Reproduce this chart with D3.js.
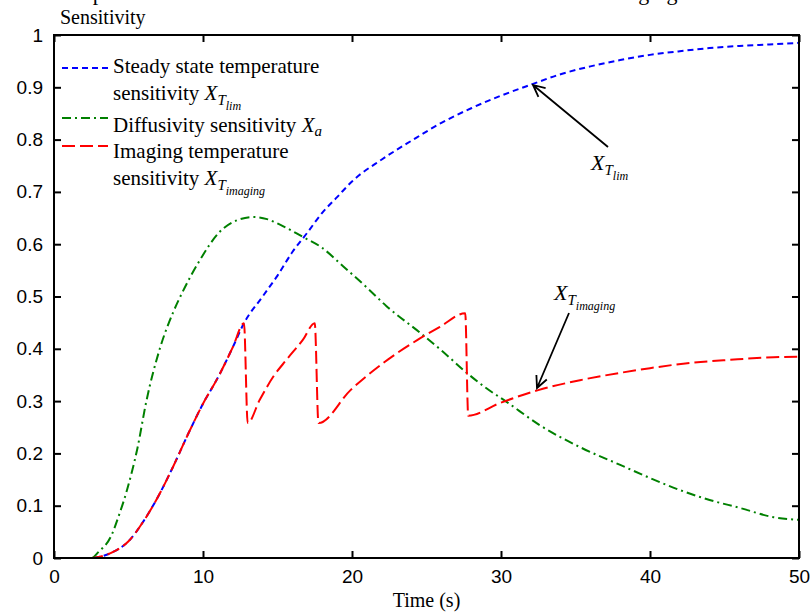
<!DOCTYPE html>
<html>
<head>
<meta charset="utf-8">
<style>
body { margin: 0; background: #fff; }
svg { display: block; }
</style>
</head>
<body>
<svg width="812" height="612"></svg>
<script src="https://cdn.jsdelivr.net/npm/d3@7"></script>
<script>

// data
var ssTime  = [0, 2.5, 3, 4, 5, 6, 7, 8, 9, 10, 11, 12, 12.75, 14, 15, 16, 17, 18, 19, 20, 22, 24, 26, 28, 30, 32, 34, 36, 38, 40, 42, 44, 46, 48, 50];
var ssValue = [0, 0, 0.002, 0.012, 0.032, 0.07, 0.118, 0.175, 0.237, 0.295, 0.345, 0.403, 0.449, 0.50, 0.54, 0.585, 0.622, 0.66, 0.69, 0.72, 0.762, 0.798, 0.832, 0.86, 0.884, 0.905, 0.925, 0.94, 0.952, 0.962, 0.969, 0.975, 0.979, 0.982, 0.985];

var diffTime  = [0, 2.5, 3, 3.8, 4.4, 4.9, 5.6, 6.2, 7.1, 8, 8.6, 9.8, 11.1, 12.3, 13.4, 14.3, 15.2, 16.7, 17.9, 19.4, 21, 22.3, 24.6, 26, 27.7, 29, 30.4, 32.6, 35.3, 38, 40, 42, 44, 46, 48.3, 50];
var diffValue = [0, 0, 0.012, 0.04, 0.085, 0.13, 0.21, 0.30, 0.40, 0.47, 0.507, 0.57, 0.623, 0.646, 0.652, 0.648, 0.637, 0.614, 0.595, 0.558, 0.517, 0.482, 0.43, 0.397, 0.354, 0.325, 0.298, 0.254, 0.212, 0.178, 0.153, 0.130, 0.111, 0.096, 0.078, 0.073];

var imgTime  = [0, 2.5, 3, 4, 5, 6, 7, 8, 9, 10, 11, 12, 12.75, 13.0, 13.8, 14.7, 15.6, 16.7, 17.5, 17.75, 19.9, 22.1, 24.4, 25.9, 27.6, 27.8, 29.9, 32.5, 35.3, 38, 40, 42.7, 45.4, 48.3, 50];
var imgValue = [0, 0, 0.002, 0.012, 0.032, 0.07, 0.118, 0.175, 0.237, 0.295, 0.345, 0.403, 0.449, 0.258, 0.302, 0.346, 0.379, 0.417, 0.449, 0.258, 0.321, 0.373, 0.417, 0.442, 0.468, 0.272, 0.296, 0.321, 0.340, 0.354, 0.363, 0.373, 0.379, 0.384, 0.385];

var xTicks = [0, 10, 20, 30, 40, 50];
var yTicks = [0, 0.1, 0.2, 0.3, 0.4, 0.5, 0.6, 0.7, 0.8, 0.9, 1];

var svg = d3.select("svg"),
    margin = {top: 35, right: 13, bottom: 54, left: 54},
    width = svg.attr("width") - margin.left - margin.right,
    height = svg.attr("height") - margin.top - margin.bottom;

var x = d3.scaleLinear().domain([0, 50]).range([0, width]),
    y = d3.scaleLinear().domain([0, 1]).range([height, 0]);

var serif = "'Liberation Serif', 'Times New Roman', serif",
    sans = "'Liberation Sans', Arial, sans-serif";

// title, mostly above the top edge as in the reference (only descenders show)
svg.append("text")
    .attr("x", 50)
    .attr("y", 0)
    .style("font", "22px " + serif)
    .text("Comparison of the three sensitivities in the case of the thermal imaging time");

var g = svg.append("g")
    .attr("transform", "translate(" + margin.left + "," + margin.top + ")");

g.append("clipPath").attr("id", "clip")
  .append("rect").attr("width", width).attr("height", height);

function zip(t, v) { return t.map(function(d, i) { return [d, v[i]]; }); }

var line = d3.line()
    .x(function(d) { return x(d[0]); })
    .y(function(d) { return y(d[1]); })
    .curve(d3.curveMonotoneX);

var series = [
  {data: zip(ssTime, ssValue), color: "#0000ff", dash: "6,4"},
  {data: zip(diffTime, diffValue), color: "#008000", dash: "9,4,2,4"},
  {data: zip(imgTime, imgValue), color: "#ff0000", dash: "13,5"}
];

g.selectAll(".series")
    .data(series)
  .enter().append("path")
    .attr("class", "series")
    .attr("clip-path", "url(#clip)")
    .attr("fill", "none")
    .attr("stroke", function(d) { return d.color; })
    .attr("stroke-width", 2)
    .attr("stroke-dasharray", function(d) { return d.dash; })
    .attr("d", function(d) { return line(d.data); });

// axes, matlab style box with inward ticks
g.append("g")
    .attr("transform", "translate(0," + height + ")")
    .call(d3.axisBottom(x).tickValues(xTicks).tickSize(-7).tickPadding(12).tickFormat(d3.format("d")))
    .call(function(a) { a.select(".domain").remove(); });

g.append("g")
    .call(d3.axisLeft(y).tickValues(yTicks).tickSize(-7).tickPadding(11).tickFormat(function(d) { return d === 0 || d === 1 ? d : d3.format(".1f")(d); }))
    .call(function(a) { a.select(".domain").remove(); });

g.append("g")
    .call(d3.axisTop(x).tickValues(xTicks).tickSize(-7).tickFormat(""))
    .call(function(a) { a.select(".domain").remove(); });

g.append("g")
    .attr("transform", "translate(" + width + ",0)")
    .call(d3.axisRight(y).tickValues(yTicks).tickSize(-7).tickFormat(""))
    .call(function(a) { a.select(".domain").remove(); });

g.selectAll(".tick line").attr("stroke", "#000").attr("stroke-width", 2);
g.selectAll(".tick text").style("font", "19px " + sans).attr("fill", "#000");

g.append("rect")
    .attr("width", width)
    .attr("height", height)
    .attr("fill", "none")
    .attr("stroke", "#000")
    .attr("stroke-width", 2);

svg.append("text")
    .attr("x", 60).attr("y", 24)
    .style("font", "20px " + serif)
    .text("Sensitivity");

svg.append("text")
    .attr("x", margin.left + width / 2).attr("y", 607)
    .attr("text-anchor", "middle")
    .style("font", "20px " + serif)
    .text("Time (s)");

// writes X with nested subscripts into a text element
function symbol(sel, sub1, sub2) {
  sel.append("tspan").style("font-style", "italic").text("X");
  if (sub2) {
    sel.append("tspan").attr("dy", 5).style("font-size", "15px").style("font-style", "italic").text(sub1);
    sel.append("tspan").attr("dy", 5).style("font-size", "12px").style("font-style", "italic").text(sub2);
  } else {
    sel.append("tspan").attr("dy", 4).style("font-size", "15px").style("font-style", "italic").text(sub1);
  }
}

// legend
var legendLines = [
  {y: 68, color: "#0000ff", dash: "6,4"},
  {y: 118, color: "#008000", dash: "9,4,2,4"},
  {y: 146, color: "#ff0000", dash: "13,5"}
];
svg.selectAll(".legline")
    .data(legendLines)
  .enter().append("line")
    .attr("x1", 62).attr("x2", 108)
    .attr("y1", function(d) { return d.y; })
    .attr("y2", function(d) { return d.y; })
    .attr("stroke", function(d) { return d.color; })
    .attr("stroke-width", 2)
    .attr("stroke-dasharray", function(d) { return d.dash; });

var lf = "21px " + serif;
svg.append("text").attr("x", 113).attr("y", 73).style("font", lf).text("Steady state temperature");
var t2 = svg.append("text").attr("x", 113).attr("y", 100).style("font", lf);
t2.append("tspan").text("sensitivity ");
symbol(t2, "T", "lim");
var t3 = svg.append("text").attr("x", 113).attr("y", 132).style("font", lf);
t3.append("tspan").text("Diffusivity sensitivity ");
symbol(t3, "a");
svg.append("text").attr("x", 113).attr("y", 158).style("font", lf).text("Imaging temperature");
var t5 = svg.append("text").attr("x", 113).attr("y", 185).style("font", lf);
t5.append("tspan").text("sensitivity ");
symbol(t5, "T", "imaging");

// annotations with open arrows
function arrow(x1, y1, x2, y2) {
  var a = Math.atan2(y2 - y1, x2 - x1), L = 13, s = 0.45;
  svg.append("path")
      .attr("fill", "none")
      .attr("stroke", "#000")
      .attr("stroke-width", 1.8)
      .attr("d", "M" + x1 + "," + y1 + "L" + x2 + "," + y2 +
        "M" + (x2 - L * Math.cos(a - s)) + "," + (y2 - L * Math.sin(a - s)) +
        "L" + x2 + "," + y2 +
        "L" + (x2 - L * Math.cos(a + s)) + "," + (y2 - L * Math.sin(a + s)));
}
arrow(608, 147, 533, 85);
arrow(569, 313, 537, 388);

var a1 = svg.append("text").attr("x", 591).attr("y", 170).style("font", "22px " + serif);
symbol(a1, "T", "lim");
var a2 = svg.append("text").attr("x", 554).attr("y", 300).style("font", "22px " + serif);
symbol(a2, "T", "imaging");

</script>
</body>
</html>
